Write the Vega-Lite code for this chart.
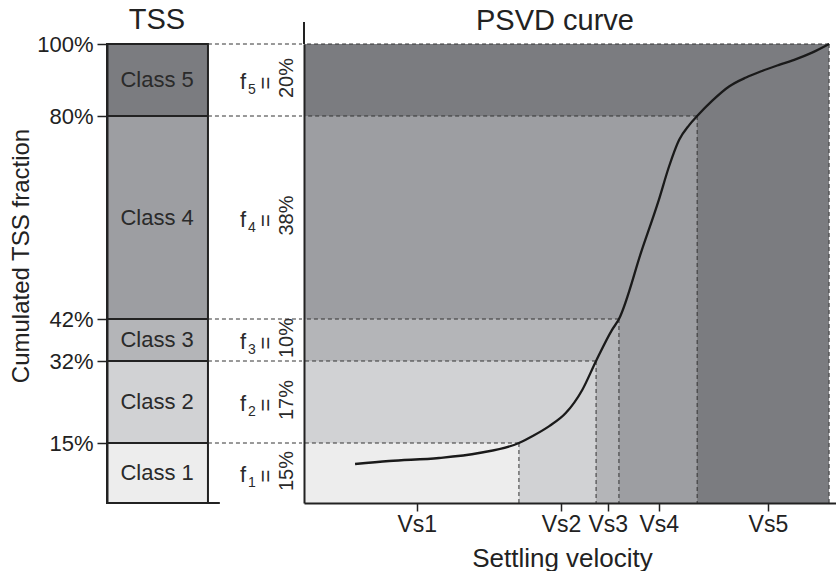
{
  "$schema": "https://vega.github.io/schema/vega-lite/v6.json",
  "padding": {"left": 9, "top": 6, "right": 0, "bottom": 0},
  "background": "white",
  "config": {
    "view": {"stroke": null},
    "font": "Liberation Sans",
    "axis": {"labelFont": "Liberation Sans", "titleFont": "Liberation Sans", "grid": false},
    "title": {"font": "Liberation Sans"}
  },
  "datasets": {
    "classes": [
      {"cls": "Class 1", "idx": "1", "pct": "15%", "lower": 0, "upper": 15, "mid": 7.5, "vmax": 40.4},
      {"cls": "Class 2", "idx": "2", "pct": "17%", "lower": 15, "upper": 32, "mid": 23.5, "vmax": 54.9},
      {"cls": "Class 3", "idx": "3", "pct": "10%", "lower": 32, "upper": 42, "mid": 37, "vmax": 59.2},
      {"cls": "Class 4", "idx": "4", "pct": "38%", "lower": 42, "upper": 80, "mid": 61, "vmax": 73.9},
      {"cls": "Class 5", "idx": "5", "pct": "20%", "lower": 80, "upper": 100, "mid": 90, "vmax": 98.7}
    ],
    "curve": [
      {"v": 9.6, "f": 9.75}, {"v": 16.0, "f": 10.5}, {"v": 25.4, "f": 11.25}, {"v": 32.9, "f": 12.5},
      {"v": 40.4, "f": 15}, {"v": 42.9, "f": 16.4}, {"v": 46.1, "f": 18.5}, {"v": 49.2, "f": 21.2},
      {"v": 52.3, "f": 26.0}, {"v": 54.9, "f": 32}, {"v": 57.9, "f": 39.4}, {"v": 59.2, "f": 42},
      {"v": 63.5, "f": 54.9}, {"v": 66.7, "f": 64.3}, {"v": 68.6, "f": 70.5}, {"v": 70.5, "f": 75.5},
      {"v": 72.4, "f": 78.3}, {"v": 73.9, "f": 80}, {"v": 76.7, "f": 84.2}, {"v": 79.9, "f": 88.2},
      {"v": 83.1, "f": 90.7}, {"v": 86.1, "f": 92.5}, {"v": 89.3, "f": 94.2}, {"v": 92.5, "f": 95.8},
      {"v": 95.5, "f": 97.6}, {"v": 98.7, "f": 100}
    ]
  },
  "spacing": 0,
  "hconcat": [
    {
      "width": 195,
      "height": 459,
      "title": {"text": "TSS", "fontSize": 29, "fontWeight": "normal", "color": "#222", "frame": "group", "anchor": "middle", "dx": -47.5, "dy": 9, "offset": 7},
      "data": {"name": "classes"},
      "layer": [
        {
          "mark": {"type": "rect", "stroke": "#222", "strokeWidth": 2},
          "encoding": {
            "x": {"datum": 0, "type": "quantitative", "scale": {"domain": [0, 98.5], "nice": false, "zero": false}, "axis": null},
            "x2": {"datum": 51},
            "y": {"field": "lower", "type": "quantitative",
              "scale": {"domain": [0, 15, 32, 42, 80, 100], "range": [459, 399, 317, 275, 72, 0], "nice": false, "zero": false},
              "axis": {"values": [15, 32, 42, 80, 100], "labelExpr": "datum.value + '%'", "labelFontSize": 22, "labelColor": "#222",
                "tickSize": 10, "tickColor": "#222", "tickWidth": 1.5, "domainColor": "#222", "domainWidth": 2, "labelPadding": 4,
                "title": "Cumulated TSS fraction", "titleFontSize": 24, "titleFontWeight": "normal", "titleColor": "#222", "titlePadding": 3, "titleY": 211.5, "zindex": 1}},
            "y2": {"field": "upper"},
            "color": {"field": "cls", "type": "nominal",
              "scale": {"domain": ["Class 1", "Class 2", "Class 3", "Class 4", "Class 5"], "range": ["#ededed", "#d1d2d4", "#b4b5b8", "#9d9ea2", "#7b7c80"]},
              "legend": null}
          }
        },
        {
          "transform": [{"filter": "datum.cls == 'Class 1'"}],
          "mark": {"type": "rule", "stroke": "#222", "strokeWidth": 2},
          "encoding": {
            "x": {"datum": 0, "type": "quantitative", "axis": null},
            "x2": {"datum": 57},
            "y": {"field": "lower", "type": "quantitative"}
          }
        },
        {
          "mark": {"type": "rule", "stroke": "#333", "strokeWidth": 1, "strokeDash": [4, 3]},
          "encoding": {
            "x": {"datum": 51, "type": "quantitative", "axis": null},
            "x2": {"datum": 98.5},
            "y": {"field": "upper", "type": "quantitative"}
          }
        },
        {
          "mark": {"type": "text", "fontSize": 22, "color": "#2a2a2a", "align": "center", "baseline": "middle"},
          "encoding": {
            "x": {"datum": 25.3, "type": "quantitative", "axis": null},
            "y": {"field": "mid", "type": "quantitative"},
            "text": {"field": "cls"}
          }
        },
        {
          "mark": {"type": "text", "fontSize": 22, "color": "#2a2a2a", "align": "center", "baseline": "alphabetic", "dy": 9},
          "encoding": {
            "x": {"datum": 68.7, "type": "quantitative", "axis": null},
            "y": {"field": "mid", "type": "quantitative"},
            "text": {"value": "f"}
          }
        },
        {
          "mark": {"type": "text", "fontSize": 14, "color": "#2a2a2a", "align": "left", "baseline": "alphabetic", "dy": 14},
          "encoding": {
            "x": {"datum": 71.2, "type": "quantitative", "axis": null},
            "y": {"field": "mid", "type": "quantitative"},
            "text": {"field": "idx"}
          }
        },
        {
          "mark": {"type": "text", "fontSize": 22, "color": "#2a2a2a", "align": "center", "baseline": "middle", "angle": 270, "dx": -3},
          "encoding": {
            "x": {"datum": 80.3, "type": "quantitative", "axis": null},
            "y": {"field": "mid", "type": "quantitative"},
            "text": {"value": "="}
          }
        },
        {
          "mark": {"type": "text", "fontSize": 20, "color": "#2a2a2a", "align": "center", "baseline": "middle", "angle": 270, "dx": 2},
          "encoding": {
            "x": {"datum": 90.9, "type": "quantitative", "axis": null},
            "y": {"field": "mid", "type": "quantitative"},
            "text": {"field": "pct"}
          }
        }
      ]
    },
    {
      "width": 532,
      "height": 459,
      "title": {"text": "PSVD curve", "fontSize": 29, "fontWeight": "normal", "color": "#222", "frame": "group", "anchor": "middle", "dx": -15, "dy": 22, "offset": 7},
      "data": {"name": "classes"},
      "layer": [
        {
          "mark": {"type": "rect"},
          "encoding": {
            "x": {"field": "vmax", "type": "quantitative", "scale": {"domain": [0, 100], "nice": false, "zero": false},
              "axis": {"values": [21.2, 48.3, 57.1, 66.7, 87.2],
                "labelExpr": "datum.value < 30 ? 'Vs1' : datum.value < 52 ? 'Vs2' : datum.value < 60 ? 'Vs3' : datum.value < 75 ? 'Vs4' : 'Vs5'",
                "labelFontSize": 23, "labelColor": "#222", "tickSize": 8, "tickColor": "#222", "tickWidth": 1.5,
                "domainColor": "#222", "domainWidth": 2, "labelPadding": 2,
                "title": "Settling velocity", "titleFontSize": 26, "titleFontWeight": "normal", "titleColor": "#222", "titlePadding": 9, "titleX": 258, "zindex": 1}},
            "x2": {"datum": 0},
            "y": {"field": "upper", "type": "quantitative", "scale": {"domain": [0, 15, 32, 42, 80, 100], "range": [459, 399, 317, 275, 72, 0], "nice": false, "zero": false},
              "axis": {"labels": false, "ticks": false, "title": null, "domainColor": "#222", "domainWidth": 2, "zindex": 1}},
            "y2": {"datum": 0},
            "color": {"field": "cls", "type": "nominal",
              "scale": {"domain": ["Class 1", "Class 2", "Class 3", "Class 4", "Class 5"], "range": ["#ededed", "#d1d2d4", "#b4b5b8", "#9d9ea2", "#7b7c80"]},
              "legend": null},
            "order": {"field": "upper", "sort": "descending"}
          }
        },
        {
          "transform": [{"filter": "datum.cls == 'Class 5'"}],
          "mark": {"type": "rule", "stroke": "#222", "strokeWidth": 2},
          "encoding": {
            "x": {"datum": 0, "type": "quantitative"},
            "y": {"field": "upper", "type": "quantitative"},
            "y2": {"datum": 106.1}
          }
        },
        {
          "mark": {"type": "rule", "stroke": "#333", "strokeWidth": 1, "strokeDash": [4, 3]},
          "encoding": {
            "x": {"field": "vmax", "type": "quantitative"},
            "x2": {"datum": 0},
            "y": {"field": "upper", "type": "quantitative"}
          }
        },
        {
          "mark": {"type": "rule", "stroke": "#333", "strokeWidth": 1, "strokeDash": [4, 3]},
          "encoding": {
            "x": {"field": "vmax", "type": "quantitative"},
            "y": {"field": "upper", "type": "quantitative"},
            "y2": {"datum": 0}
          }
        },
        {
          "data": {"name": "curve"},
          "mark": {"type": "line", "stroke": "#1a1a1a", "strokeWidth": 2.3, "interpolate": "monotone"},
          "encoding": {
            "x": {"field": "v", "type": "quantitative"},
            "y": {"field": "f", "type": "quantitative"}
          }
        }
      ]
    }
  ]
}
